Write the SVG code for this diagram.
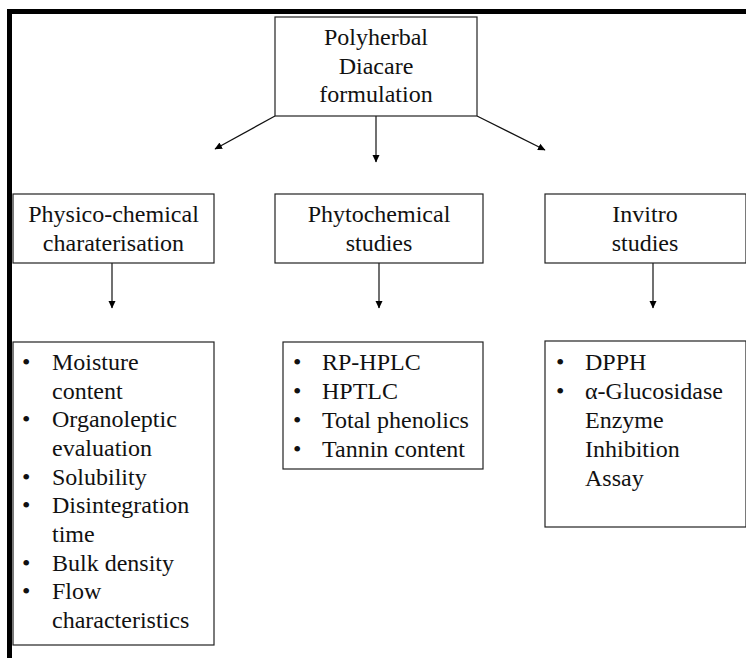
<svg xmlns="http://www.w3.org/2000/svg" width="746" height="658" viewBox="0 0 746 658">
<defs>
<marker id="arr" markerWidth="8" markerHeight="8" refX="7" refY="4" orient="auto" markerUnits="userSpaceOnUse">
<path d="M0,0.5 L7.5,4 L0,7.5 Z" fill="#000"/>
</marker>
<style>
.box{fill:#fff;stroke:#222;stroke-width:1.2}
.t{font-family:"Liberation Serif","Times New Roman",serif;font-size:24px;fill:#111}
.c{text-anchor:middle}
.ln{stroke:#111;stroke-width:1.2;fill:none;marker-end:url(#arr)}
</style>
</defs>
<rect x="0" y="0" width="746" height="658" fill="#fff"/>
<g id="frame">
<rect x="7" y="9" width="739" height="5" fill="#000"/>
<rect x="7" y="9" width="5" height="649" fill="#000"/>
</g>
<g id="connectors">
<line class="ln" x1="275" y1="116" x2="215" y2="149"/>
<line class="ln" x1="376" y1="116" x2="376" y2="162"/>
<line class="ln" x1="477" y1="116" x2="545" y2="150"/>
<line class="ln" x1="112" y1="263" x2="112" y2="308"/>
<line class="ln" x1="379" y1="263" x2="379" y2="308"/>
<line class="ln" x1="653" y1="263" x2="653" y2="308"/>
</g>
<g id="root">
<rect class="box" x="275" y="17" width="202" height="99"/>
<text class="t c" x="376" y="45">Polyherbal</text>
<text class="t c" x="376" y="74">Diacare</text>
<text class="t c" x="376" y="102">formulation</text>
</g>
<g id="physico">
<rect class="box" x="13" y="194" width="201" height="69"/>
<text class="t c" x="113.5" y="222">Physico-chemical</text>
<text class="t c" x="113.5" y="251">charaterisation</text>
</g>
<g id="phyto">
<rect class="box" x="275" y="194" width="208" height="69"/>
<text class="t c" x="379" y="222">Phytochemical</text>
<text class="t c" x="379" y="251">studies</text>
</g>
<g id="invitro">
<rect class="box" x="545" y="194" width="201" height="69"/>
<text class="t c" x="645" y="222">Invitro</text>
<text class="t c" x="645" y="251">studies</text>
</g>
<g id="physico-list">
<rect class="box" x="13" y="342" width="201" height="303"/>
<text class="t" x="22" y="370">•</text><text class="t" x="52" y="370">Moisture</text>
<text class="t" x="52" y="398.7">content</text>
<text class="t" x="22" y="427.4">•</text><text class="t" x="52" y="427.4">Organoleptic</text>
<text class="t" x="52" y="456">evaluation</text>
<text class="t" x="22" y="484.7">•</text><text class="t" x="52" y="484.7">Solubility</text>
<text class="t" x="22" y="513.4">•</text><text class="t" x="52" y="513.4">Disintegration</text>
<text class="t" x="52" y="542">time</text>
<text class="t" x="22" y="570.7">•</text><text class="t" x="52" y="570.7">Bulk density</text>
<text class="t" x="22" y="599.4">•</text><text class="t" x="52" y="599.4">Flow</text>
<text class="t" x="52" y="628">characteristics</text>
</g>
<g id="phyto-list">
<rect class="box" x="283" y="342" width="200" height="127"/>
<text class="t" x="293" y="370">•</text><text class="t" x="322" y="370">RP-HPLC</text>
<text class="t" x="293" y="399">•</text><text class="t" x="322" y="399">HPTLC</text>
<text class="t" x="293" y="428">•</text><text class="t" x="322" y="428">Total phenolics</text>
<text class="t" x="293" y="457">•</text><text class="t" x="322" y="457">Tannin content</text>
</g>
<g id="invitro-list">
<rect class="box" x="545" y="341" width="201" height="186"/>
<text class="t" x="556" y="370">•</text><text class="t" x="585" y="370">DPPH</text>
<text class="t" x="556" y="399">•</text><text class="t" x="585" y="399">α-Glucosidase</text>
<text class="t" x="585" y="428">Enzyme</text>
<text class="t" x="585" y="457">Inhibition</text>
<text class="t" x="585" y="486">Assay</text>
</g>
</svg>
